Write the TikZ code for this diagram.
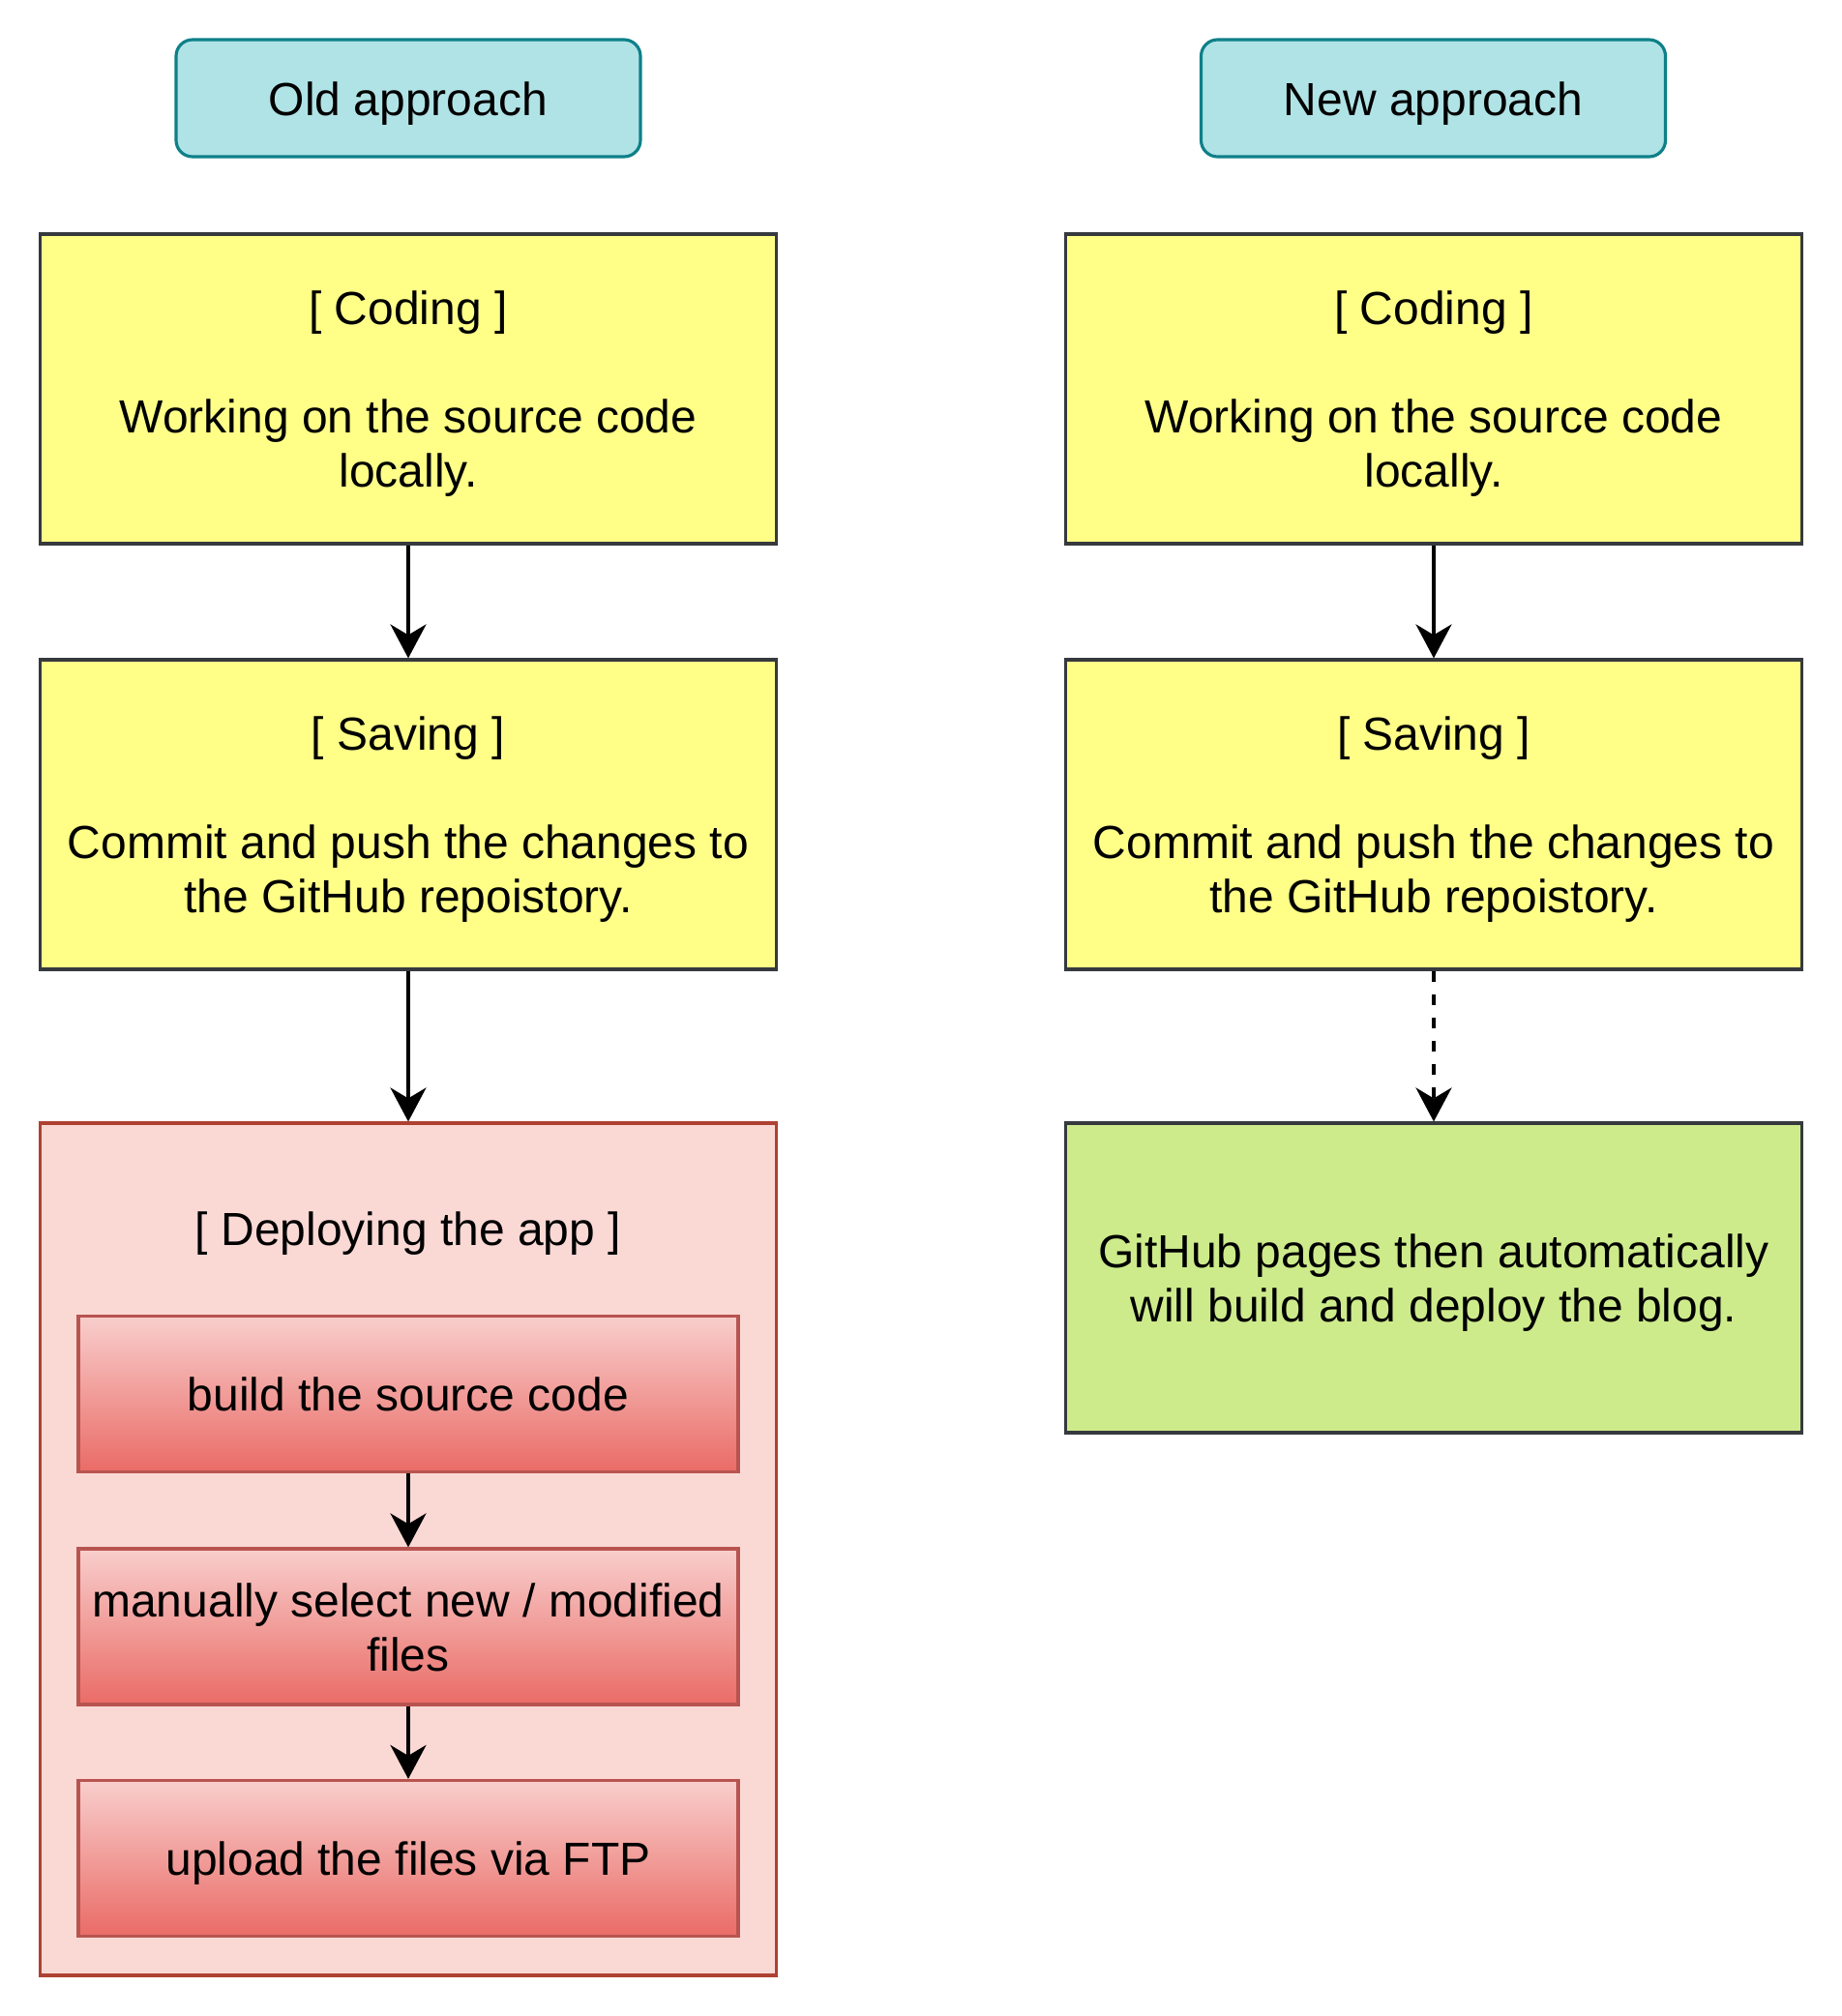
\documentclass[tikz,border=0pt]{standalone}
\usepackage{fontspec}
\setmainfont{Liberation Sans}
\usepackage{xcolor}
\usepackage{tikz}
\usetikzlibrary{arrows.meta,positioning}

\definecolor{hdrfill}{HTML}{B0E3E6}
\definecolor{hdrline}{HTML}{0E8088}
\definecolor{yelfill}{HTML}{FFFF88}
\definecolor{boxline}{HTML}{36393D}
\definecolor{grpfill}{HTML}{FAD9D5}
\definecolor{grpline}{HTML}{AE4132}
\definecolor{subtop}{HTML}{F8CECC}
\definecolor{subbot}{HTML}{EA6B66}
\definecolor{subline}{HTML}{B85450}
\definecolor{grnfill}{HTML}{CDEB8B}

% fixed line box, so that text sits as in the drawing tool
\newcommand{\lnhi}{\rule{0pt}{0.95em}}
\newcommand{\lnlo}{\rule[-0.22em]{0pt}{0.22em}}

\begin{document}
\begin{tikzpicture}[
  font=\fontsize{27.3}{31.9}\selectfont,
  execute at begin node=\lnhi, execute at end node=\lnlo,
  hdr/.style={draw=hdrline, line width=1.8pt, fill=hdrfill, rounded corners=0.34cm,
    minimum width=9.6cm, minimum height=2.42cm, align=center},
  task/.style={draw=boxline, line width=1.8pt, fill=yelfill,
    minimum width=15.22cm, minimum height=6.4cm, align=center},
  grp/.style={draw=grpline, line width=1.8pt, fill=grpfill,
    minimum width=15.22cm, minimum height=17.62cm},
  sub/.style={draw=subline, line width=1.8pt, top color=subtop, bottom color=subbot,
    minimum width=13.64cm, minimum height=3.22cm, inner xsep=0.1cm, align=center},
  done/.style={draw=boxline, line width=1.8pt, fill=grnfill,
    minimum width=15.22cm, minimum height=6.4cm, align=center},
  arrow/.style={-{Stealth[length=0.7cm, width=0.74cm, inset=0.22cm]}, line width=2pt, black}
]
\useasboundingbox (0,0) rectangle (38.08,-41.68);

% old approach
\node[hdr] (oldh) at (8.44,-2.03) {Old approach};
\node[task] (oldc) at (8.44,-8.04) {\lnhi[ Coding ]\\[31.9pt]Working on the source code\\locally.};
\node[task] (olds) at (8.44,-16.84) {\lnhi[ Saving ]\\[31.9pt]Commit and push the changes to\\the GitHub repoistory.};
\node[grp] (oldd) at (8.44,-32.03) {};
\node (deptxt) at (8.44,-25.4) {[ Deploying the app ]};
\node[sub] (b1) at (8.44,-28.82) {build the source code};
\node[sub] (b2) at (8.44,-33.63) {\lnhi manually select new / modified\\files};
\node[sub] (b3) at (8.44,-38.42) {upload the files via FTP};

% new approach
\node[hdr] (newh) at (29.63,-2.03) {New approach};
\node[task] (newc) at (29.64,-8.04) {\lnhi[ Coding ]\\[31.9pt]Working on the source code\\locally.};
\node[task] (news) at (29.64,-16.84) {\lnhi[ Saving ]\\[31.9pt]Commit and push the changes to\\the GitHub repoistory.};
\node[done] (newd) at (29.64,-26.42) {\lnhi GitHub pages then automatically\\will build and deploy the blog.};

\draw[arrow] (oldc) -- (olds);
\draw[arrow] (olds) -- (oldd);
\draw[arrow] (b1) -- (b2);
\draw[arrow] (b2) -- (b3);
\draw[arrow] (newc) -- (news);
\draw[arrow, dash pattern=on 0.22cm off 0.26cm] (news) -- (newd);

\end{tikzpicture}
\end{document}
